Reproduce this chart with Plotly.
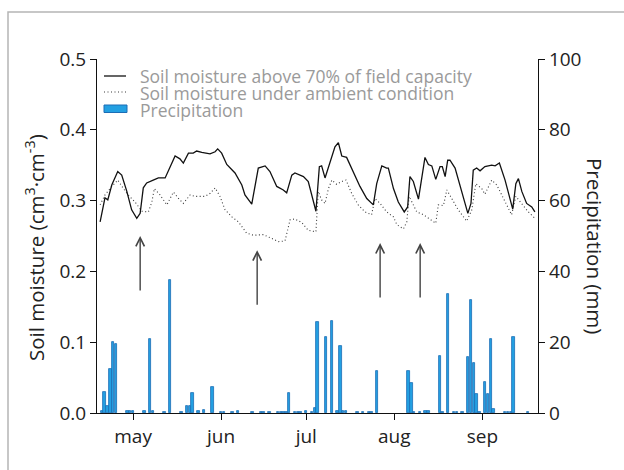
import plotly.graph_objects as go

# ---- data (x = day of year) ----
sm_high_day = [109.4, 111.1, 112.1, 113.5, 115.6, 117.0, 118.8, 120.5, 122.3, 123.5, 124.6, 125.8,
               128.1, 129.9, 132.3, 134.0, 135.8, 137.5, 138.7, 140.5, 142.2, 143.4, 145.2, 148.1,
               149.9, 150.8, 152.2, 154.0, 156.9, 159.3, 160.4, 162.8, 164.0, 165.1, 167.5, 169.2,
               171.6, 173.9, 175.1, 176.9, 178.0, 181.0, 182.7, 183.9, 185.4, 186.6, 187.4, 188.6,
               189.8, 191.0, 192.1, 193.3, 194.5, 196.2, 198.6, 200.9, 203.3, 205.6, 206.8, 208.6,
               210.3, 210.9, 212.7, 214.4, 216.5, 217.7, 218.5, 219.7, 221.5, 222.7, 223.8, 225.0,
               226.2, 227.6, 229.1, 229.9, 230.9, 231.8, 232.6, 234.4, 236.7, 238.9, 240.0, 240.8,
               242.0, 243.2, 244.9, 247.3, 248.5, 250.0, 252.0, 253.4, 254.7, 255.8, 256.7, 257.9,
               259.6, 261.4, 262.5]
sm_high = [0.270, 0.304, 0.301, 0.322, 0.341, 0.336, 0.313, 0.287, 0.275, 0.282, 0.318, 0.325,
           0.329, 0.332, 0.332, 0.346, 0.363, 0.359, 0.353, 0.367, 0.367, 0.370, 0.368, 0.366,
           0.369, 0.373, 0.367, 0.351, 0.339, 0.322, 0.308, 0.295, 0.322, 0.346, 0.349, 0.341,
           0.320, 0.315, 0.311, 0.336, 0.339, 0.334, 0.327, 0.308, 0.285, 0.348, 0.349, 0.332,
           0.348, 0.364, 0.376, 0.382, 0.363, 0.361, 0.339, 0.320, 0.303, 0.294, 0.324, 0.349,
           0.346, 0.346, 0.317, 0.298, 0.284, 0.291, 0.334, 0.327, 0.302, 0.336, 0.361, 0.351,
           0.349, 0.330, 0.348, 0.348, 0.334, 0.357, 0.357, 0.346, 0.313, 0.282, 0.296, 0.343,
           0.346, 0.342, 0.348, 0.350, 0.349, 0.353, 0.329, 0.306, 0.288, 0.324, 0.331, 0.313,
           0.296, 0.291, 0.284]

sm_amb_day = [109.4, 111.1, 113.5, 115.6, 117.6, 119.3, 121.7, 124.1, 126.4, 127.6, 128.5, 130.5,
              132.9, 135.2, 137.0, 138.7, 141.1, 142.8, 144.6, 146.4, 148.1, 149.9, 151.6, 153.4,
              155.8, 158.1, 161.0, 163.4, 166.9, 169.8, 172.2, 174.5, 176.3, 178.0, 180.4, 182.7,
              185.4, 186.2, 187.4, 188.6, 189.8, 191.0, 192.7, 194.5, 196.0, 198.0, 200.3, 202.7,
              205.0, 206.2, 208.0, 210.3, 212.7, 213.9, 216.2, 217.4, 218.2, 219.2, 220.9, 223.3,
              225.6, 227.6, 228.5, 230.3, 231.5, 233.2, 235.5, 238.5, 240.3, 241.7, 243.8, 244.9,
              247.3, 249.1, 251.4, 254.3, 255.8, 257.9, 260.2, 262.5]
sm_amb = [0.294, 0.308, 0.320, 0.329, 0.317, 0.308, 0.298, 0.285, 0.284, 0.298, 0.317, 0.308,
          0.294, 0.312, 0.303, 0.296, 0.308, 0.306, 0.306, 0.306, 0.310, 0.318, 0.306, 0.287,
          0.277, 0.270, 0.254, 0.251, 0.252, 0.247, 0.242, 0.243, 0.273, 0.274, 0.269, 0.258,
          0.256, 0.313, 0.301, 0.296, 0.317, 0.329, 0.323, 0.327, 0.329, 0.310, 0.294, 0.284,
          0.280, 0.303, 0.296, 0.284, 0.277, 0.266, 0.260, 0.270, 0.306, 0.298, 0.284, 0.280,
          0.274, 0.268, 0.294, 0.293, 0.315, 0.303, 0.287, 0.271, 0.287, 0.324, 0.317, 0.309,
          0.329, 0.322, 0.303, 0.280, 0.306, 0.296, 0.284, 0.275]

precip_day = [110, 111, 112, 113, 114, 115, 119, 120, 121, 125, 127, 128, 132, 134, 138, 140,
              141, 142, 144, 146, 149, 152, 153, 156, 158, 163, 166, 167, 169, 172, 173, 174,
              175, 176, 178, 179, 180, 182, 184, 185, 186, 189, 191, 193, 194, 195, 196, 200,
              202, 204, 205, 207, 218, 219, 220, 222, 224, 225, 229, 230, 232, 234, 235, 237,
              239, 240, 241, 242, 243, 245, 246, 247, 248, 252, 253, 254, 255, 260]
precip_mm = [0.5, 6.0, 2.0, 12.3, 20.1, 19.5, 0.5, 0.5, 0.5, 0.5, 20.9, 0.5, 0.3, 37.6, 0.3, 2.0,
             2.0, 5.6, 0.5, 0.8, 7.4, 0.4, 0.3, 0.4, 0.5, 0.4, 0.3, 0.4, 0.4, 0.4, 0.4, 0.4,
             0.4, 5.6, 0.4, 0.4, 0.4, 0.6, 0.4, 1.3, 25.6, 21.4, 26.0, 0.6, 19.0, 0.6, 0.6, 0.3,
             0.3, 0.4, 0.4, 11.9, 11.9, 8.4, 0.3, 0.3, 0.5, 0.5, 16.1, 0.3, 33.5, 0.3, 0.3, 0.4,
             15.7, 31.9, 14.0, 5.3, 0.3, 8.8, 5.3, 20.9, 1.0, 0.4, 0.4, 0.4, 21.4, 0.3]

month_ticks = [121, 152, 182, 213, 244]
month_labels = ["may", "jun", "jul", "aug", "sep"]

arrow_day = [123.5, 164.7, 208.0, 222.1]
arrow_val = [0.250, 0.230, 0.240, 0.240]

legend_names = ["Soil moisture above 70% of field capacity",
                "Soil moisture under ambient condition",
                "Precipitation"]

# ---- layout geometry (pixels) ----
W, H = 624, 470
L, R, T, B = 97, 538, 59, 413


def px(x):
    return (x - L) / (R - L)


def py(y):
    return (B - y) / (B - T)


FONT = "Open Sans"
DOT = "1px,2.5px"
fig = go.Figure()

fig.add_trace(go.Bar(x=precip_day, y=precip_mm, yaxis="y2", width=0.85,
                     marker=dict(color="#23a0e2", line=dict(color="#1c6db5", width=0.8)),
                     showlegend=False))
fig.add_trace(go.Scatter(x=sm_amb_day, y=sm_amb, mode="lines",
                         line=dict(color="#3a3a3a", width=1.1, dash=DOT), showlegend=False))
fig.add_trace(go.Scatter(x=sm_high_day, y=sm_high, mode="lines",
                         line=dict(color="#111111", width=1.3), showlegend=False))

axis_common = dict(showgrid=False, zeroline=False, showline=True, linecolor="#111111",
                   linewidth=1.2, ticks="outside", ticklen=6, tickcolor="#111111",
                   tickwidth=1.2, tickfont=dict(family=FONT, size=19, color="#222222"))

fig.update_layout(
    width=W, height=H,
    margin=dict(l=L, r=W - R, t=T, b=H - B),
    paper_bgcolor="white", plot_bgcolor="white",
    bargap=0,
    xaxis=dict(range=[108.3, 263.6], tickvals=month_ticks, ticktext=month_labels, **axis_common),
    yaxis=dict(range=[0, 0.5], tickvals=[0, 0.1, 0.2, 0.3, 0.4, 0.5], tickformat=".1f",
               **axis_common),
    yaxis2=dict(range=[0, 100], overlaying="y", side="right",
                tickvals=[0, 20, 40, 60, 80, 100], **axis_common),
)

annotations = []
for d, v in zip(arrow_day, arrow_val):
    annotations.append(dict(x=d, y=v, xref="x", yref="y", text="", showarrow=True,
                            ax=0, ay=56, arrowhead=5, arrowsize=1.2, arrowwidth=1.4,
                            arrowcolor="#444444", standoff=0, startstandoff=0))

annotations.append(dict(x=px(35), y=py(248), xref="paper", yref="paper",
                        text="Soil moisture (cm<sup>3</sup>·cm<sup>-3</sup>)", textangle=-90,
                        showarrow=False, font=dict(family=FONT, size=20.5, color="#222222"),
                        xanchor="center", yanchor="middle"))
annotations.append(dict(x=px(595), y=py(246), xref="paper", yref="paper",
                        text="Precipitation (mm)", textangle=90,
                        showarrow=False, font=dict(family=FONT, size=20.5, color="#222222"),
                        xanchor="center", yanchor="middle"))

legend_rows = [76, 93, 110]
for name, yy in zip(legend_names, legend_rows):
    annotations.append(dict(x=px(138), y=py(yy), xref="paper", yref="paper", text=name,
                            showarrow=False, xanchor="left", yanchor="middle",
                            font=dict(family=FONT, size=17.5, color="#9a9a9a")))

shapes = [
    dict(type="line", xref="paper", yref="paper", x0=px(104), x1=px(126), y0=py(76), y1=py(76),
         line=dict(color="#111111", width=1.3)),
    dict(type="line", xref="paper", yref="paper", x0=px(104), x1=px(126), y0=py(92), y1=py(92),
         line=dict(color="#3a3a3a", width=1.1, dash=DOT)),
    dict(type="rect", xref="paper", yref="paper", x0=px(104), x1=px(127), y0=py(112.5),
         y1=py(105), fillcolor="#23a0e2", line=dict(color="#1c6db5", width=1)),
    dict(type="rect", xref="paper", yref="paper", x0=px(8), x1=px(640), y0=py(490),
         y1=py(12), line=dict(color="#b5b5b5", width=1.5), layer="below"),
]

fig.update_layout(annotations=annotations, shapes=shapes)
fig.write_html("out.html")
